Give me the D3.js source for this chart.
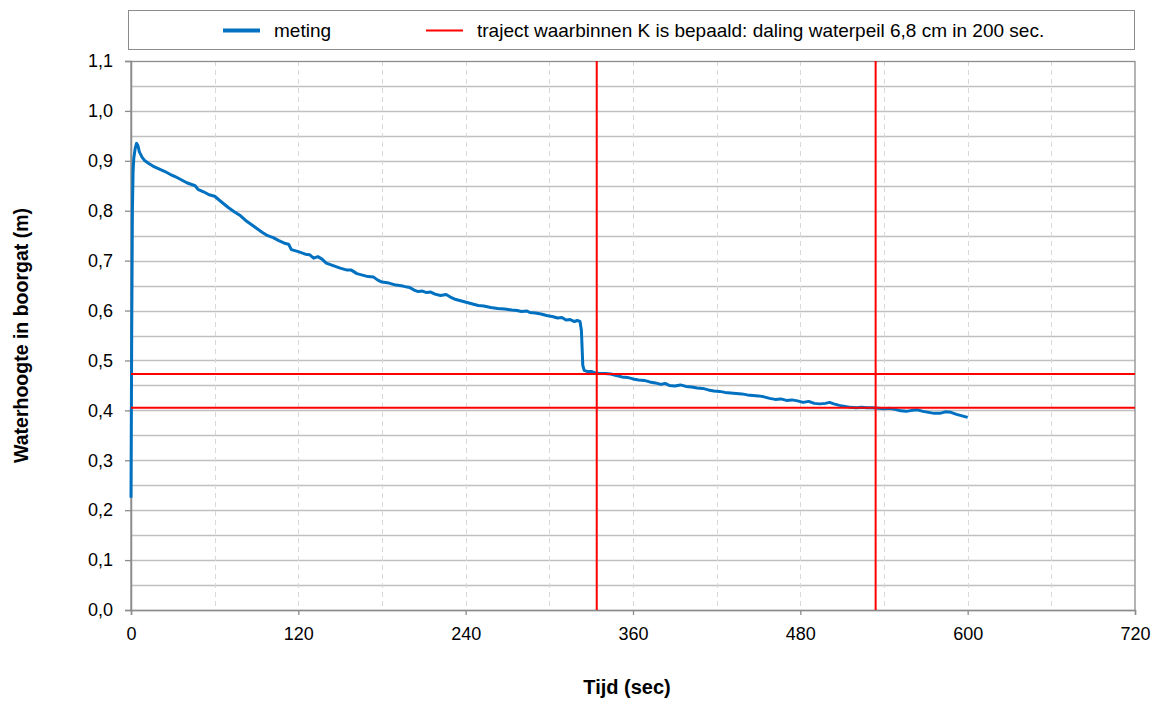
<!DOCTYPE html>
<html><head><meta charset="utf-8">
<script src="https://cdn.jsdelivr.net/npm/d3@7"></script>
<style>body{margin:0;background:#fff;}svg{display:block;font-family:"Liberation Sans",Arial,sans-serif;}</style>
</head><body><svg id="c" width="1161" height="704"></svg>
<script>
const times = [0,0.5,1,1.5,2,3,4,5,6,8,10,13,16,20,24,28,32,36,40,43,46,48,52,56,60,63,66,70,74,78,82,86,90,94,98,102,106,110,113,115,120,125,128,131,134,137,140,145,150,155,158,162,166,170,174,177,180,185,190,195,198,200,203,206,209,212,215,218,222,226,229,233,237,241,245,249,253,258,263,268,273,277,280,284,286,290,294,298,302,306,309,312,315,318,320,322,323,324,325,327,330,333,336,340,344,348,352,356,360,364,368,372,376,380,383,386,390,394,398,402,406,410,414,418,422,426,430,434,438,442,446,450,454,458,462,466,470,474,478,482,486,490,494,498,501,504,508,512,516,520,524,528,532,536,540,544,548,552,556,560,564,568,572,576,580,584,588,592,596,600];
const meting = [0.225,0.55,0.80,0.88,0.905,0.925,0.935,0.930,0.918,0.907,0.900,0.894,0.889,0.884,0.879,0.873,0.868,0.862,0.856,0.853,0.850,0.843,0.838,0.832,0.829,0.822,0.815,0.806,0.798,0.791,0.781,0.773,0.765,0.757,0.750,0.746,0.740,0.735,0.733,0.722,0.718,0.713,0.712,0.705,0.708,0.703,0.695,0.690,0.685,0.681,0.681,0.674,0.671,0.668,0.667,0.661,0.657,0.655,0.651,0.649,0.647,0.646,0.641,0.638,0.639,0.636,0.637,0.633,0.630,0.632,0.627,0.622,0.619,0.616,0.613,0.610,0.609,0.606,0.604,0.603,0.601,0.600,0.598,0.599,0.596,0.595,0.593,0.590,0.588,0.585,0.586,0.581,0.582,0.578,0.580,0.578,0.560,0.490,0.480,0.478,0.478,0.475,0.474,0.474,0.473,0.470,0.467,0.466,0.463,0.461,0.460,0.457,0.455,0.452,0.454,0.450,0.449,0.451,0.448,0.447,0.445,0.444,0.441,0.439,0.438,0.436,0.435,0.434,0.433,0.431,0.430,0.429,0.427,0.424,0.422,0.423,0.420,0.421,0.419,0.416,0.418,0.414,0.413,0.414,0.416,0.413,0.410,0.408,0.406,0.405,0.406,0.405,0.405,0.404,0.403,0.404,0.402,0.399,0.398,0.400,0.401,0.398,0.396,0.394,0.394,0.397,0.396,0.392,0.389,0.386];
const trajectTimes = [334, 534];
const trajectLevels = [0.473, 0.405];
const xTicks = [0,120,240,360,480,600,720];
const yTicks = [0,0.1,0.2,0.3,0.4,0.5,0.6,0.7,0.8,0.9,1.0,1.1];
const legendLabels = ["meting","traject waarbinnen K is bepaald: daling waterpeil 6,8 cm in 200 sec."];
const xTitle = "Tijd (sec)";
const yTitle = "Waterhoogte in boorgat (m)";

const svg = d3.select("#c");
const L=131, R=1135, T=61, B=610;
const x = d3.scaleLinear().domain([0,720]).range([L,R]);
const y = d3.scaleLinear().domain([0,1.1]).range([B,T]);
const fmt = d => d3.format(".1f")(d).replace(".", ",");

// horizontal gridlines every 0.05
const hg = d3.range(1,22).map(i=>i*0.05);
svg.append("g").selectAll("line").data(hg).join("line")
  .attr("x1",L).attr("x2",R).attr("y1",d=>Math.round(y(d))+0.5).attr("y2",d=>Math.round(y(d))+0.5)
  .attr("stroke","#c0c0c0").attr("stroke-width",1.3);
// vertical dashed gridlines every 60
const vg = d3.range(1,12).map(i=>i*60);
svg.append("g").selectAll("line").data(vg).join("line")
  .attr("x1",d=>Math.round(x(d))+0.5).attr("x2",d=>Math.round(x(d))+0.5).attr("y1",T).attr("y2",B)
  .attr("stroke","#d9d9d9").attr("stroke-width",1).attr("stroke-dasharray","5,4");
// border
svg.append("rect").attr("x",L).attr("y",T+0.5).attr("width",R-L).attr("height",B-T)
  .attr("fill","none").attr("stroke","#8c8c8c").attr("stroke-width",1.3);

// axes
const yAxis = svg.append("g").attr("transform",`translate(${L},0)`)
  .call(d3.axisLeft(y).tickValues(yTicks).tickFormat(fmt).tickSize(6).tickPadding(12));
const xAxis = svg.append("g").attr("transform",`translate(0,${B})`)
  .call(d3.axisBottom(x).tickValues(xTicks).tickFormat(d3.format("d")).tickSize(5).tickPadding(12));
[yAxis,xAxis].forEach(a=>{
  a.select(".domain").attr("stroke","#8c8c8c").attr("stroke-width",1.5);
  a.selectAll(".tick line").attr("stroke","#8c8c8c").attr("stroke-width",1.3);
  a.selectAll("text").attr("font-size",18).attr("fill","#000").attr("font-family","Liberation Sans, Arial, sans-serif");
});

// data line
const line = d3.line().x((d,i)=>x(times[i])).y(d=>y(d));
svg.append("path").datum(meting).attr("d",line).attr("fill","none")
  .attr("stroke","#0070c0").attr("stroke-width",3).attr("stroke-linejoin","round");

// red lines
svg.append("g").selectAll("line").data(trajectTimes).join("line")
  .attr("x1",d=>x(d)).attr("x2",d=>x(d)).attr("y1",T).attr("y2",B)
  .attr("stroke","#ff0000").attr("stroke-width",2);
svg.append("g").selectAll("line").data(trajectLevels).join("line")
  .attr("x1",L).attr("x2",R).attr("y1",d=>y(d)).attr("y2",d=>y(d))
  .attr("stroke","#ff0000").attr("stroke-width",2);

// legend
svg.append("rect").attr("x",128.5).attr("y",10.5).attr("width",1006).attr("height",39)
  .attr("fill","#fff").attr("stroke","#8c8c8c").attr("stroke-width",1);
const lg = [{x:223,c:"#0070c0",w:4,t:legendLabels[0]},{x:426,c:"#ff0000",w:2,t:legendLabels[1]}];
lg.forEach(d=>{
  svg.append("line").attr("x1",d.x).attr("x2",d.x+37).attr("y1",30.5).attr("y2",30.5).attr("stroke",d.c).attr("stroke-width",d.w);
  svg.append("text").attr("x",d.x+51).attr("y",37).attr("font-size",19).text(d.t);
});

// titles
svg.append("text").attr("x",627).attr("y",694).attr("text-anchor","middle")
  .attr("font-size",20).attr("font-weight","bold").text(xTitle);
svg.append("text").attr("transform",`translate(28,${(T+B)/2}) rotate(-90)`).attr("text-anchor","middle")
  .attr("font-size",19.5).attr("font-weight","bold").text(yTitle);
</script></body></html>
